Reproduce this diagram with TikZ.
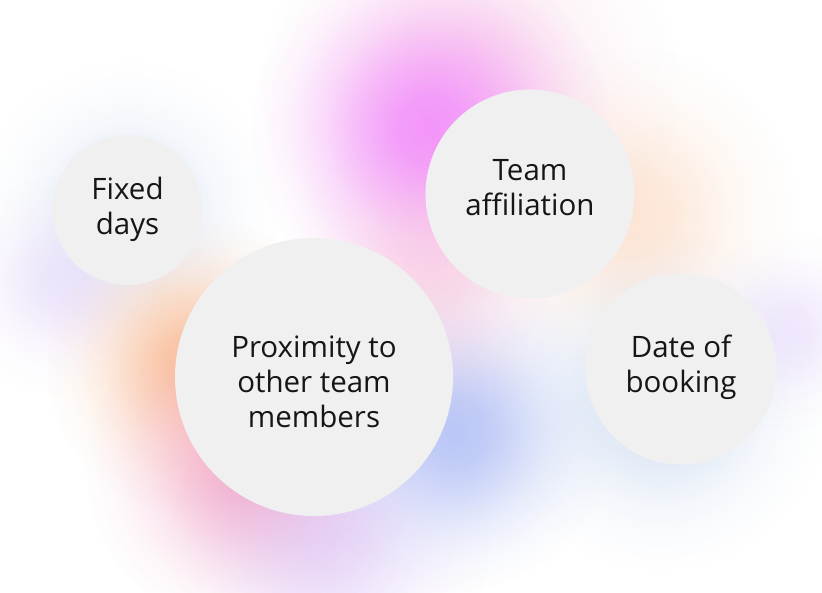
\documentclass[tikz,border=0pt]{standalone}
\usepackage{fontspec}
\setmainfont{Open Sans}
\usetikzlibrary{fadings}
\definecolor{bubblegray}{RGB}{240,240,240}
\definecolor{inkgray}{RGB}{22,22,22}
\definecolor{glowmagenta}{RGB}{242,140,252}
\definecolor{glowpink}{RGB}{244,168,200}
\definecolor{glowpeach}{RGB}{250,190,150}
\definecolor{glowblue}{RGB}{178,192,246}
\definecolor{glowsteel}{RGB}{185,205,235}
\definecolor{glowviolet}{RGB}{214,188,248}
\pgfdeclareradialshading{glowshade}{\pgfpointorigin}{%
  color(0bp)=(transparent!0); color(5bp)=(transparent!12);
  color(10bp)=(transparent!40); color(15bp)=(transparent!70);
  color(20bp)=(transparent!90); color(25bp)=(transparent!100);
  color(50bp)=(transparent!100)}
\pgfdeclarefading{glow}{\pgfuseshading{glowshade}}

\begin{document}
\begin{tikzpicture}[x=1pt,y=-1pt,
    bubble/.style={circle, fill=bubblegray, inner sep=0pt},
    caption/.style={text=inkgray, align=center, inner sep=0pt,
      font=\fontsize{29.5}{35}\selectfont},
    haze/.style={path fading=glow}]
  \useasboundingbox (0,0) rectangle (822,592);
  \fill[white] (0,0) rectangle (822,592);
  % soft coloured haze behind the bubbles
  \fill[glowpink, haze, opacity=0.35] (470,85) circle (210pt);
  \fill[glowmagenta, haze, opacity=0.9] (430,130) circle (180pt);
  \fill[glowpeach, haze, opacity=0.4] (630,215) circle (170pt);
  \fill[glowsteel, haze, opacity=0.45] (128,210) circle (150pt);
  \fill[glowviolet, haze, opacity=0.35] (60,285) circle (110pt);
  \fill[glowpeach, haze, opacity=0.95] (195,365) circle (150pt);
  \fill[glowpink, haze, opacity=0.9] (250,468) circle (165pt);
  \fill[glowviolet, haze, opacity=0.55] (330,540) circle (160pt);
  \fill[glowblue, haze, opacity=0.9] (455,432) circle (160pt);
  \fill[glowpink, haze, opacity=0.4] (430,278) circle (150pt);
  \fill[glowsteel, haze, opacity=0.6] (660,400) circle (170pt);
  \fill[glowviolet, haze, opacity=0.35] (790,330) circle (100pt);
  % bubbles
  \node[bubble, minimum size=150pt] (fixed) at (127.5,210) {};
  \node[bubble, minimum size=278pt] (proximity) at (314,377) {};
  \node[bubble, minimum size=209pt] (team) at (530,194) {};
  \node[bubble, minimum size=191pt] (booking) at (681,369) {};
  \node[caption, yshift=1pt] at (fixed) {Fixed\\days};
  \node[caption, yshift=-5pt] at (proximity) {Proximity to\\other team\\members};
  \node[caption, yshift=6pt] at (team) {Team\\affiliation};
  \node[caption, yshift=2pt] at (booking) {Date of\\booking};
\end{tikzpicture}
\end{document}
